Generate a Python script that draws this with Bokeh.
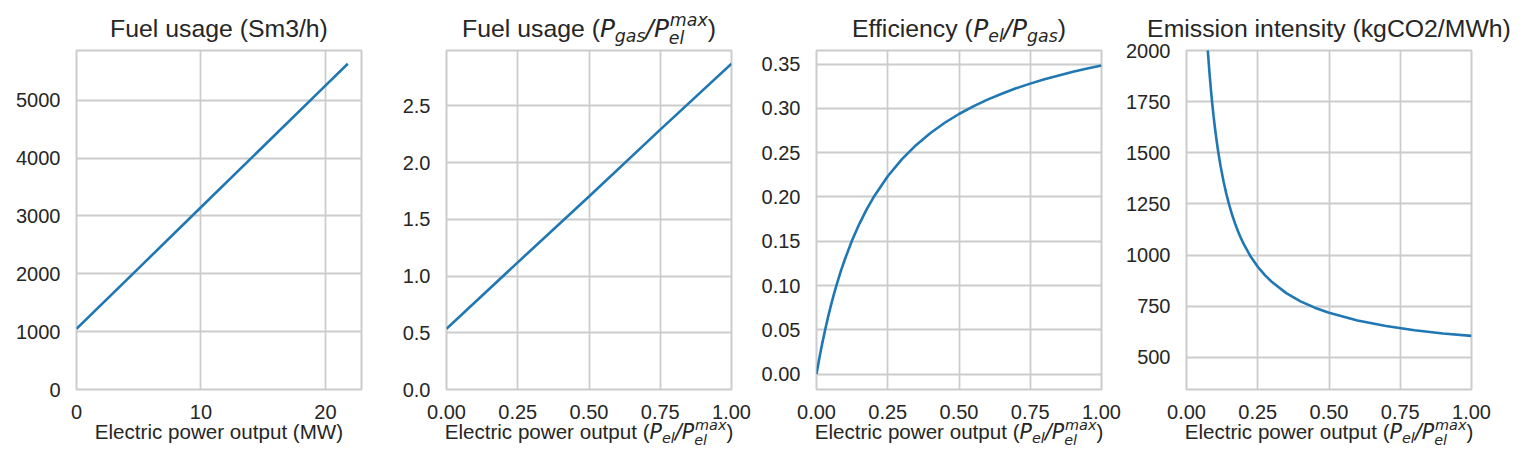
from bokeh.plotting import figure
from bokeh.models import Range1d, FixedTicker, NumeralTickFormatter
from bokeh.layouts import row
from bokeh.core.properties import value
from bokeh.embed import file_html
from bokeh.resources import INLINE

# ---------------- data ----------------
fuel_mw = [0, 5, 10, 15, 20, 21.8]
fuel_sm3h = [1047, 2099, 3150, 4202, 5253, 5632]

load_rel = [0.0, 0.25, 0.5, 0.75, 1.0]
fuel_rel = [0.535, 1.12, 1.70, 2.29, 2.87]

eff_x = [0.0, 0.01, 0.015, 0.02, 0.03, 0.04, 0.05, 0.06, 0.07, 0.085, 0.1, 0.125, 0.15, 0.175,
         0.2, 0.25, 0.3, 0.35, 0.4, 0.45, 0.5, 0.55, 0.6, 0.65, 0.7, 0.75, 0.8, 0.85, 0.9,
         0.95, 1.0]
eff_y = [0.0, 0.0179, 0.0263, 0.0344, 0.0496, 0.0637, 0.0767, 0.0889, 0.1002, 0.1159, 0.130,
         0.1512, 0.1694, 0.1855, 0.1996, 0.2234, 0.2428, 0.2588, 0.2723, 0.2838, 0.2937,
         0.3023, 0.3099, 0.3166, 0.3227, 0.3280, 0.3329, 0.3373, 0.3414, 0.3450, 0.3484]

emi_x = [0.07, 0.075, 0.08, 0.085, 0.09, 0.095, 0.1, 0.105, 0.11, 0.115, 0.12, 0.13, 0.14,
         0.15, 0.16, 0.17, 0.18, 0.19, 0.2, 0.225, 0.25, 0.275, 0.3, 0.35, 0.4, 0.45, 0.5,
         0.6, 0.7, 0.8, 0.9, 1.0]
emi_y = [2104, 1996, 1902, 1819, 1745, 1679, 1620, 1566, 1517, 1473, 1432, 1360, 1298,
         1244, 1197, 1156, 1119, 1086, 1056, 993, 943, 902, 868, 814, 774, 743, 718,
         680, 653, 633, 617, 605]

p1_xticks = [0, 10, 20]
p1_yticks = [0, 1000, 2000, 3000, 4000, 5000]
rel_xticks = [0, 0.25, 0.5, 0.75, 1.0]
p2_yticks = [0, 0.5, 1.0, 1.5, 2.0, 2.5]
p3_yticks = [0, 0.05, 0.1, 0.15, 0.2, 0.25, 0.3, 0.35]
p4_yticks = [500, 750, 1000, 1250, 1500, 1750, 2000]

titles = [
    [("r", "Fuel usage (Sm3/h)")],
    [("r", "Fuel usage ("), ("m", "P"), ("sub", "gas"), ("m", "/"), ("m", "P"),
     ("stack", ("max", "el")), ("r", ")")],
    [("r", "Efficiency ("), ("m", "P"), ("sub", "el"), ("m", "/"), ("m", "P"),
     ("sub", "gas"), ("r", ")")],
    [("r", "Emission intensity (kgCO2/MWh)")],
]
xlabel_mw = [("r", "Electric power output (MW)")]
xlabel_rel = [("r", "Electric power output ("), ("m", "P"), ("sub", "el"), ("m", "/"),
              ("m", "P"), ("stack", ("max", "el")), ("r", ")")]

# ---------------- styling ----------------
LINE = "#1f77b4"
GRID = "#cccccc"
TXT = "#262626"
TITLE_PX = 24.8
LABEL_PX = 20.6
TICK_PX = "20px"
FRAME_W = 285
FRAME_H = 339
TITLE_BASE = FRAME_H + 13.5   # px above frame bottom
XLAB_BASE = -49.3
BASELINE_FIX = 0.34           # em, empirical baseline correction

ARIAL = {' ': 278, '(': 333, ')': 333, '/': 278, '.': 278, '2': 556, '3': 556,
         'C': 722, 'E': 667, 'F': 611, 'M': 833, 'O': 778, 'P': 667, 'S': 667, 'W': 944,
         'a': 556, 'b': 556, 'c': 500, 'd': 556, 'e': 556, 'f': 278, 'g': 556, 'h': 556,
         'i': 222, 'j': 222, 'k': 500, 'l': 222, 'm': 833, 'n': 556, 'o': 556, 'p': 556,
         'q': 556, 'r': 333, 's': 500, 't': 278, 'u': 556, 'v': 500, 'w': 722, 'x': 500,
         'y': 500, 'z': 500}
DEJAVU = {'P': 1235, 'g': 1300, 'a': 1255, 's': 1067, '/': 690, 'm': 1995, 'x': 1212,
          'e': 1260, 'l': 569}


def width(s, math, size):
    if math:
        return sum(DEJAVU.get(c, 1250) for c in s) / 2048.0 * size
    return sum(ARIAL.get(c, 556) for c in s) / 1000.0 * size


def composite(p, xr, yr, segs, size, base_px):
    """Place text pieces around the frame centre; positions converted px -> data."""
    small = 0.7 * size
    pieces = []
    cur = 0.0
    for kind, s in segs:
        if kind == "r":
            pieces.append((s, "Liberation Sans", "normal", size, cur, 0.0))
            cur += width(s, False, size)
        elif kind == "m":
            pieces.append((s, "DejaVu Sans", "italic", size, cur, 0.0))
            cur += width(s, True, size)
        elif kind == "sub":
            pieces.append((s, "DejaVu Sans", "italic", small, cur, -0.18 * size))
            cur += width(s, True, small)
        elif kind == "stack":
            sup, sb = s
            pieces.append((sup, "DejaVu Sans", "italic", small, cur + 0.04 * size, 0.445 * size))
            pieces.append((sb, "DejaVu Sans", "italic", small, cur, -0.29 * size))
            cur += max(width(sup, True, small) + 0.04 * size, width(sb, True, small))
    total = cur
    kx = (xr[1] - xr[0]) / FRAME_W
    ky = (yr[1] - yr[0]) / FRAME_H
    for s, font, style, sz, xo, dy in pieces:
        px = FRAME_W / 2.0 - total / 2.0 + xo
        py = base_px + dy + BASELINE_FIX * sz
        p.text(x=[xr[0] + px * kx], y=[yr[0] + py * ky], text=[s],
               text_font=value(font), text_font_style=value(style),
               text_font_size=value(f"{sz:.2f}px"), text_color=TXT,
               text_align=value("left"), text_baseline=value("alphabetic"),
               level="guide")


def make_fig(xr, yr, xticks, yticks, xfmt, yfmt, left, right):
    p = figure(width=left + FRAME_W + right, height=465, x_range=Range1d(*xr), y_range=Range1d(*yr),
               output_backend="svg", toolbar_location=None, title=None,
               min_border_left=left, min_border_right=right, min_border_top=50, min_border_bottom=76)
    p.background_fill_color = "white"
    p.border_fill_color = "white"
    p.outline_line_color = GRID
    p.outline_line_width = 2
    for g, tk in ((p.xgrid, xticks), (p.ygrid, yticks)):
        g.grid_line_color = GRID
        g.grid_line_width = 1.8
        g.ticker = FixedTicker(ticks=tk)
    for ax, tk, f, so in ((p.xaxis, xticks, xfmt, 15), (p.yaxis, yticks, yfmt, 16)):
        ax.ticker = FixedTicker(ticks=tk)
        ax.formatter = NumeralTickFormatter(format=f)
        ax.axis_line_color = None
        ax.major_tick_line_color = None
        ax.minor_tick_line_color = None
        ax.major_tick_out = 0
        ax.major_tick_in = 0
        ax.major_label_standoff = so
        ax.major_label_text_font = "Liberation Sans"
        ax.major_label_text_font_size = TICK_PX
        ax.major_label_text_color = TXT
    return p


panels = [
    dict(xr=(0, 22.9), yr=(0, 5861), xt=p1_xticks, yt=p1_yticks, xf="0", yf="0",
         left=76, right=21, x=fuel_mw, y=fuel_sm3h, xl=xlabel_mw),
    dict(xr=(0, 1), yr=(0, 2.987), xt=rel_xticks, yt=p2_yticks, xf="0.00", yf="0.0",
         left=64, right=21, x=load_rel, y=fuel_rel, xl=xlabel_rel),
    dict(xr=(0, 1), yr=(-0.0174, 0.3654), xt=rel_xticks, yt=p3_yticks, xf="0.00", yf="0.00",
         left=64, right=21, x=eff_x, y=eff_y, xl=xlabel_rel),
    dict(xr=(0, 1), yr=(343, 2000), xt=rel_xticks, yt=p4_yticks, xf="0.00", yf="0",
         left=64, right=48, x=emi_x, y=emi_y, xl=xlabel_rel),
]

figs = []
for i, d in enumerate(panels):
    p = make_fig(d["xr"], d["yr"], d["xt"], d["yt"], d["xf"], d["yf"], d["left"], d["right"])
    p.line(d["x"], d["y"], line_color=LINE, line_width=2.6)
    composite(p, d["xr"], d["yr"], titles[i], TITLE_PX, TITLE_BASE)
    composite(p, d["xr"], d["yr"], d["xl"], LABEL_PX, XLAB_BASE)
    figs.append(p)

layout = row(*figs)
open("out.html", "w").write(file_html(layout, INLINE))
